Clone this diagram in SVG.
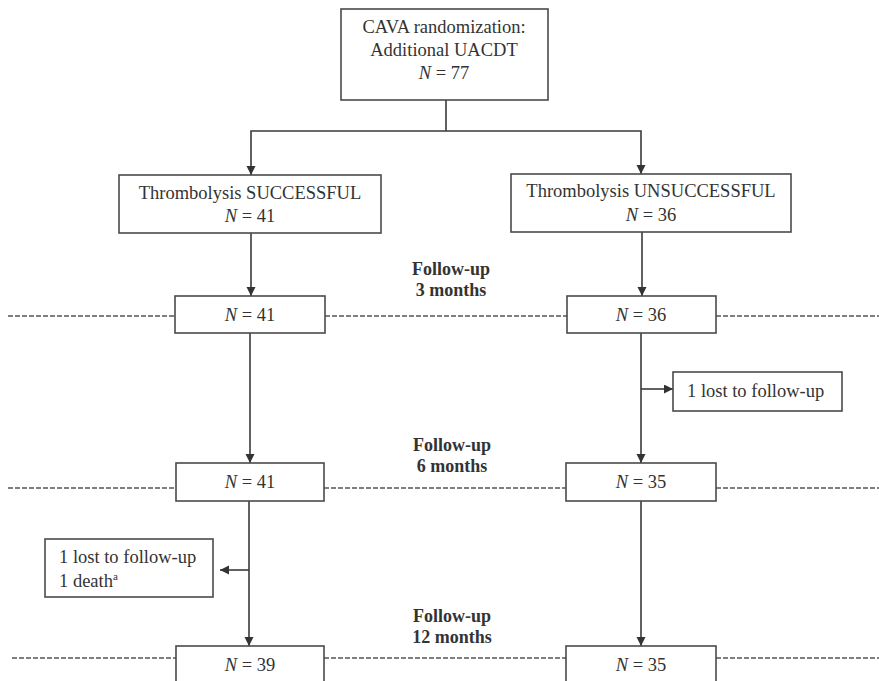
<svg xmlns="http://www.w3.org/2000/svg" width="879" height="681" viewBox="0 0 879 681">
<style>
  .box { fill: #ffffff; stroke: #4a4a4a; stroke-width: 1.6; }
  .t { font-family: "Liberation Serif", "Times New Roman", serif; font-size: 18.5px; fill: #333333; }
  .c { text-anchor: middle; }
  .lbl { font-family: "Liberation Serif", "Times New Roman", serif; font-size: 18px; font-weight: bold; fill: #333333; text-anchor: middle; }
  .conn { fill: none; stroke: #3a3a3a; stroke-width: 1.6; }
  .dash { fill: none; stroke: #555555; stroke-width: 1.5; stroke-dasharray: 5 2; }
  .i { font-style: italic; }
</style>
<defs>
  <marker id="arr" markerUnits="userSpaceOnUse" markerWidth="10" markerHeight="10" refX="9" refY="4.5" orient="auto">
    <path d="M0,0 L9,4.5 L0,9 z" fill="#333333"/>
  </marker>
</defs>

<g id="timelines">
  <path class="dash" d="M8 316 H175 M325 316 H567 M716 316 H879"/>
  <path class="dash" d="M8 488 H176 M324 488 H566 M716 488 H879"/>
  <path class="dash" d="M12 658 H176 M324 658 H566 M716 658 H879"/>
</g>

<g id="labels">
  <text class="lbl" x="451" y="275">Follow-up</text>
  <text class="lbl" x="451" y="296">3 months</text>
  <text class="lbl" x="452" y="451">Follow-up</text>
  <text class="lbl" x="452" y="472">6 months</text>
  <text class="lbl" x="452" y="622">Follow-up</text>
  <text class="lbl" x="452" y="643">12 months</text>
</g>

<g id="connectors">
  <path class="conn" d="M446 100 V131"/>
  <path class="conn" d="M446 131 H251 V175" marker-end="url(#arr)"/>
  <path class="conn" d="M446 131 H641 V174" marker-end="url(#arr)"/>
  <path class="conn" d="M251 233 V296" marker-end="url(#arr)"/>
  <path class="conn" d="M642 232 V296" marker-end="url(#arr)"/>
  <path class="conn" d="M250 333 V463" marker-end="url(#arr)"/>
  <path class="conn" d="M641 333 V463" marker-end="url(#arr)"/>
  <path class="conn" d="M641 389 H673" marker-end="url(#arr)"/>
  <path class="conn" d="M249 501 V646" marker-end="url(#arr)"/>
  <path class="conn" d="M249 570 H220" marker-end="url(#arr)"/>
  <path class="conn" d="M641 501 V646" marker-end="url(#arr)"/>
</g>

<g id="randomization">
  <rect class="box" x="341" y="9" width="207" height="91"/>
  <text class="t c" x="444" y="33">CAVA randomization:</text>
  <text class="t c" x="444" y="56">Additional UACDT</text>
  <text class="t c" x="444" y="79"><tspan class="i">N</tspan> = 77</text>
</g>

<g id="successful">
  <rect class="box" x="119" y="175" width="262" height="58"/>
  <text class="t c" x="250" y="199">Thrombolysis SUCCESSFUL</text>
  <text class="t c" x="250" y="222"><tspan class="i">N</tspan> = 41</text>
</g>

<g id="unsuccessful">
  <rect class="box" x="511" y="174" width="280" height="58"/>
  <text class="t c" x="651" y="197">Thrombolysis UNSUCCESSFUL</text>
  <text class="t c" x="651" y="221"><tspan class="i">N</tspan> = 36</text>
</g>

<g id="s3m">
  <rect class="box" x="175" y="296" width="150" height="37"/>
  <text class="t c" x="250" y="321"><tspan class="i">N</tspan> = 41</text>
</g>

<g id="u3m">
  <rect class="box" x="567" y="296" width="149" height="37"/>
  <text class="t c" x="641" y="321"><tspan class="i">N</tspan> = 36</text>
</g>

<g id="u-lost">
  <rect class="box" x="673" y="372" width="169" height="39"/>
  <text class="t" x="687" y="397">1 lost to follow-up</text>
</g>

<g id="s6m">
  <rect class="box" x="176" y="463" width="148" height="38"/>
  <text class="t c" x="250" y="488"><tspan class="i">N</tspan> = 41</text>
</g>

<g id="u6m">
  <rect class="box" x="566" y="463" width="150" height="38"/>
  <text class="t c" x="641" y="488"><tspan class="i">N</tspan> = 35</text>
</g>

<g id="s-lost">
  <rect class="box" x="45" y="539" width="168" height="58"/>
  <text class="t" x="59" y="563">1 lost to follow-up</text>
  <text class="t" x="59" y="587">1 death<tspan font-size="11" dy="-7">a</tspan></text>
</g>

<g id="s12m">
  <rect class="box" x="176" y="646" width="148" height="38"/>
  <text class="t c" x="250" y="671"><tspan class="i">N</tspan> = 39</text>
</g>

<g id="u12m">
  <rect class="box" x="566" y="646" width="150" height="38"/>
  <text class="t c" x="641" y="671"><tspan class="i">N</tspan> = 35</text>
</g>
</svg>
